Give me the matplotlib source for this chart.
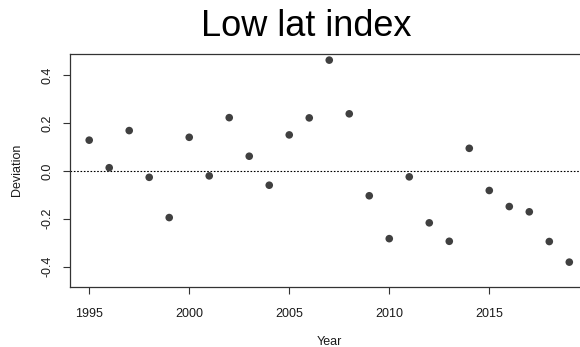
import matplotlib
matplotlib.use("Agg")
import matplotlib.pyplot as plt

years = list(range(1995, 2020))
deviation = [0.128, 0.013, 0.168, -0.027, -0.195, 0.140, -0.021, 0.222, 0.061, -0.060,
             0.150, 0.221, 0.462, 0.238, -0.104, -0.283, -0.025, -0.217, -0.294, 0.094,
             -0.082, -0.149, -0.171, -0.295, -0.381]
xticks = [1995, 2000, 2005, 2010, 2015]
yticks = [-0.4, -0.2, 0.0, 0.2, 0.4]
ytick_labels = ["-0.4", "-0.2", "0.0", "0.2", "0.4"]

plt.rcParams['font.family'] = ['Liberation Sans', 'DejaVu Sans']

W, H = 580, 347
fig = plt.figure(figsize=(W / 100, H / 100), dpi=100)
left, right, top, bottom = 70, 588.5, 54, 286.7
ax = fig.add_axes([left / W, 1 - bottom / H, (right - left) / W, (bottom - top) / H])

ax.scatter(years, deviation, s=30, color='#404040', edgecolors='none', zorder=3)
ax.axhline(0, color='black', linestyle=(0, (1.5, 1.5)), linewidth=0.8, zorder=2)

ax.set_xlim(1994.04, 2019.96)
ax.set_ylim(-0.4835, 0.4876)
ax.set_xticks(xticks)
ax.set_xticklabels([str(x) for x in xticks])
ax.set_yticks(yticks)
ax.set_yticklabels(ytick_labels, rotation=90, va='center')

for s in ax.spines.values():
    s.set_color('#333333')
    s.set_linewidth(0.9)
ax.tick_params(axis='both', direction='out', length=5, width=0.8, color='#333333',
               labelsize=9, labelcolor='#1a1a1a')
ax.tick_params(axis='x', pad=10)
ax.tick_params(axis='y', pad=7)

fig.text(306 / W, 1 - 26 / H, "Low lat index", fontsize=26, ha='center', va='center', color='black')
fig.text(329 / W, 1 - 342 / H, "Year", fontsize=9, ha='center', va='center', color='#1a1a1a')
fig.text(17 / W, 1 - 170 / H, "Deviation", fontsize=9, ha='center', va='center', rotation=90, color='#1a1a1a')

fig.savefig("out.png", dpi=100)
